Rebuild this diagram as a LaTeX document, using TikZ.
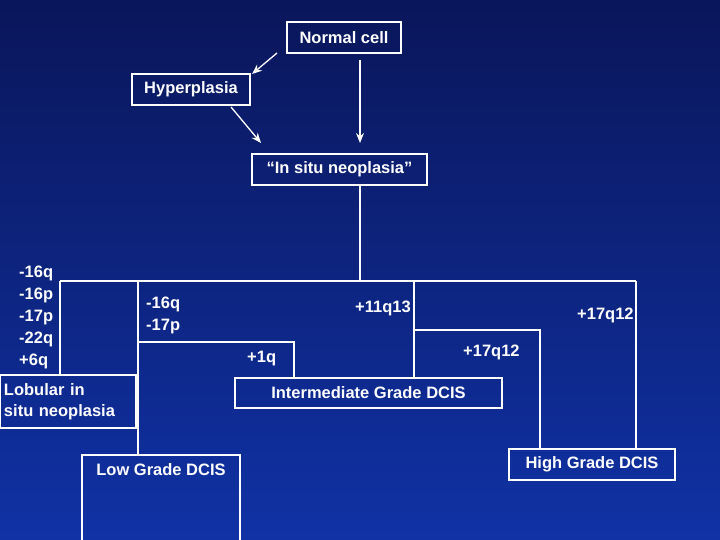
\documentclass[tikz,border=0pt]{standalone}
\usepackage{fontspec}
\usetikzlibrary{arrows.meta}
\setmainfont{Liberation Sans}
\begin{document}
\begin{tikzpicture}[x=1pt,y=-1pt,
  fnt/.style={font=\bfseries\fontsize{16.5}{19}\selectfont},
  box/.style={draw=white,line width=1.4pt,text=white,inner sep=0pt,fnt},
  lbl/.style={text=white,fnt,anchor=west,inner sep=0pt},
  ln/.style={draw=white,line width=1.3pt},
  arr/.style={ln,-{Stealth[length=10pt,width=8pt]}}]
\shade[top color={rgb,255:red,10;green,22;blue,90},bottom color={rgb,255:red,16;green,50;blue,165}] (0,0) rectangle (720,540);
\useasboundingbox (0,0) rectangle (720,540);
\begin{scope}
\clip (0,0) rectangle (720,540);
\node[box,minimum width=114pt,minimum height=31pt] (normal) at (344,37.5) {Normal cell};
\node[box,minimum width=118pt,minimum height=31pt] (hyper) at (191,89.5) {Hyperplasia};
\node[box,minimum width=175pt,minimum height=31pt] (insitu) at (339.5,169.5) {``In situ neoplasia''};
\node[box,minimum width=136pt,minimum height=53pt,text width=128pt,align=left,font=\bfseries\fontsize{16.5}{21}\selectfont] (lob) at (68,401.5) {Lobular in\\situ neoplasia};
\node[box,minimum width=267pt,minimum height=30pt] (inter) at (368.5,393) {Intermediate Grade DCIS};
\node[box,minimum width=166pt,minimum height=31pt] (high) at (592,464.5) {High Grade DCIS};
\draw[white,line width=1.4pt] (82,560) -- (82,455) -- (240,455) -- (240,560);
\node[text=white,fnt] (low) at (161,470) {Low Grade DCIS};
\coordinate (lowtop) at (138,455);
\coordinate (root) at (360,281);
\draw[arr] (277,53) -- (252,74);
\draw[arr] (231,107) -- (261,143);
\draw[arr] (360,60) -- (360,143);
\draw[ln] (insitu.south -| root) -- (root);
\draw[ln] (60,281) -- (636,281);
\draw[ln] (60,281) -- (lob.north -| 60,0);
\draw[ln] (138,281) -- (lowtop);
\draw[ln] (138,342) -- (294,342) -- (inter.north -| 294,0);
\draw[ln] (414,281) -- (inter.north -| 414,0);
\draw[ln] (414,330) -- (540,330) -- (high.north -| 540,0);
\draw[ln] (636,281) -- (high.north -| 636,0);
\node[lbl,anchor=north west,align=left,font=\bfseries\fontsize{16.5}{22}\selectfont] (stack) at (19,266) {-16q\\-16p\\-17p\\-22q\\+6q};
\node[lbl,anchor=north west,align=left,font=\bfseries\fontsize{16.5}{21.5}\selectfont] (l2) at (146,297) {-16q\\-17p};
\node[lbl] (l3) at (355,308) {+11q13};
\node[lbl] (l4) at (577,315) {+17q12};
\node[lbl] (l5) at (463,352) {+17q12};
\node[lbl] (l6) at (247,359) {+1q};
\end{scope}
\end{tikzpicture}
\end{document}
